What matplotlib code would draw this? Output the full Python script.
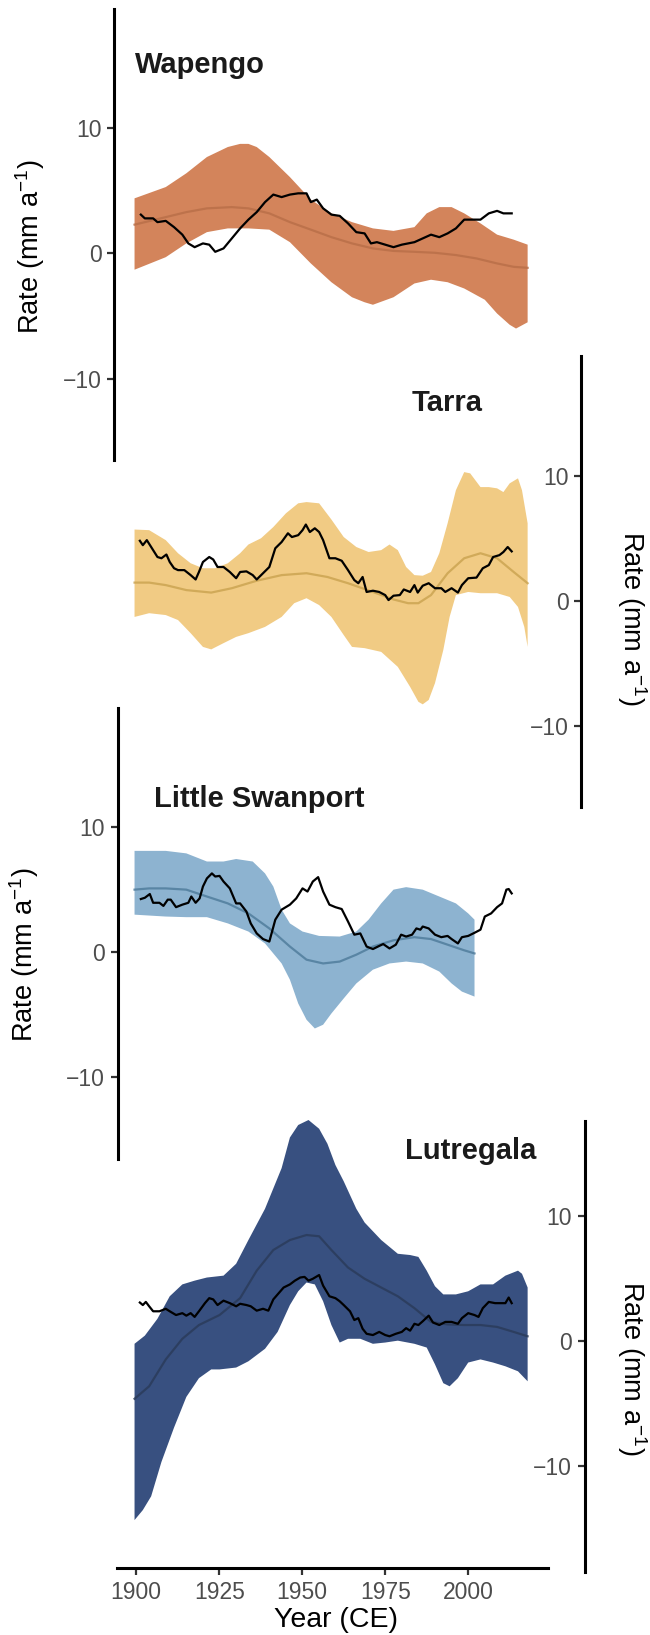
import matplotlib
matplotlib.use("Agg")
import matplotlib.pyplot as plt
import numpy as np

plt.rcParams['font.family'] = ['Liberation Sans', 'DejaVu Sans']
plt.rcParams['mathtext.fontset'] = 'custom'
plt.rcParams['mathtext.rm'] = 'Liberation Sans'
plt.rcParams['mathtext.it'] = 'Liberation Sans:italic'
plt.rcParams['mathtext.bf'] = 'Liberation Sans:bold'

# ---------------- data ----------------
sites = ["Wapengo", "Tarra", "Little Swanport", "Lutregala"]
x_ticks = [1900, 1925, 1950, 1975, 2000]
y_ticks = [-10, 0, 10]
y_label = "Rate (mm a$^{-1}$)"
x_label = "Year (CE)"

# Wapengo
wap_up_yr = [1899.5, 1908.9, 1915.1, 1921.3, 1927.6, 1931.3, 1933.8, 1936.3, 1940.1, 1946.3, 1952.6, 1958.8,
             1965.0, 1971.3, 1977.5, 1983.8, 1987.5, 1991.3, 1995.0, 1998.8, 2003.7, 2008.7, 2013.7, 2017.9]
wap_up = [4.4, 5.3, 6.4, 7.7, 8.5, 8.75, 8.75, 8.5, 7.7, 6.1, 4.3, 3.2,
          2.5, 2.0, 1.8, 2.1, 3.2, 3.7, 3.7, 3.2, 2.4, 1.5, 1.1, 0.7]
wap_lo_yr = [1899.5, 1908.9, 1915.1, 1921.3, 1927.6, 1933.8, 1940.1, 1946.3, 1952.6, 1958.8, 1965.0, 1968.8,
             1971.3, 1977.5, 1983.8, 1988.8, 1993.8, 1998.8, 2005.0, 2008.7, 2012.5, 2014.4, 2017.9]
wap_lo = [-1.3, -0.3, 0.8, 1.7, 2.0, 2.0, 1.9, 0.9, -0.8, -2.3, -3.5, -3.9,
          -4.1, -3.5, -2.4, -2.1, -2.3, -2.8, -3.7, -4.8, -5.7, -6.0, -5.5]
wap_med_yr = [1899.5, 1908.9, 1915.1, 1921.3, 1928.8, 1933.8, 1940.1, 1946.3, 1952.6, 1958.8, 1965.0,
              1971.3, 1977.5, 1983.8, 1990.0, 1996.3, 2002.5, 2008.7, 2013.7, 2017.9]
wap_med = [2.3, 2.9, 3.3, 3.6, 3.7, 3.6, 3.2, 2.5, 1.9, 1.3, 0.8,
           0.4, 0.2, 0.13, 0.05, -0.13, -0.4, -0.8, -1.07, -1.15]
wap_obs_yr = [1901.4, 1902.6, 1905.1, 1906.4, 1908.9, 1911.4, 1913.9, 1915.7, 1917.6, 1920.1, 1922.0, 1923.8,
              1926.3, 1928.8, 1931.3, 1933.8, 1936.3, 1938.8, 1941.3, 1943.8, 1946.3, 1948.8, 1951.3, 1952.6,
              1954.4, 1956.3, 1958.8, 1961.3, 1963.8, 1966.3, 1968.8, 1970.7, 1972.5, 1975.0, 1977.5, 1980.0,
              1983.8, 1986.3, 1988.8, 1991.3, 1993.8, 1996.3, 1998.8, 2001.2, 2003.7, 2006.2, 2008.7, 2010.6, 2013.1]
wap_obs = [3.1, 2.8, 2.8, 2.5, 2.6, 2.1, 1.5, 0.8, 0.5, 0.8, 0.7, 0.13,
           0.4, 1.2, 2.0, 2.7, 3.3, 4.1, 4.7, 4.5, 4.7, 4.8, 4.8, 4.1,
           4.3, 3.6, 3.1, 3.0, 2.4, 1.7, 1.6, 0.8, 0.9, 0.7, 0.5, 0.7,
           0.9, 1.2, 1.5, 1.3, 1.6, 2.0, 2.7, 2.7, 2.7, 3.2, 3.4, 3.2, 3.2]

# Tarra
tar_up_yr = [1899.5, 1903.9, 1908.9, 1912.6, 1916.4, 1920.1, 1923.8, 1927.6, 1931.3, 1933.8, 1937.6, 1941.3,
             1945.1, 1948.8, 1951.3, 1955.1, 1958.8, 1962.5, 1966.3, 1970.0, 1973.8, 1976.3, 1978.8, 1981.3,
             1983.8, 1986.3, 1988.8, 1991.3, 1993.8, 1996.3, 1998.8, 2000.6, 2003.7, 2006.2, 2008.7, 2010.6,
             2012.5, 2015.0, 2016.2, 2017.9]
tar_up = [5.7, 5.65, 4.85, 3.8, 3.0, 2.6, 2.6, 3.0, 3.8, 4.5, 5.0, 5.9,
          7.0, 7.8, 7.9, 7.8, 6.5, 5.1, 4.3, 3.9, 4.05, 4.5, 4.05, 2.7,
          2.05, 2.0, 2.3, 3.8, 6.2, 8.85, 10.3, 10.2, 9.1, 9.1, 9.0, 8.7,
          9.4, 9.8, 8.85, 6.2]
tar_lo_yr = [1899.5, 1903.9, 1908.9, 1912.6, 1916.4, 1920.1, 1922.6, 1926.3, 1930.1, 1933.8, 1938.8, 1943.8,
             1947.6, 1951.3, 1955.1, 1958.8, 1962.5, 1965.0, 1968.8, 1973.8, 1978.8, 1982.5, 1985.0, 1986.3,
             1988.1, 1990.0, 1992.5, 1994.4, 1996.3, 2000.0, 2003.7, 2008.7, 2012.5, 2015.0, 2016.9, 2017.9]
tar_lo = [-1.3, -1.0, -1.15, -1.55, -2.6, -3.7, -3.9, -3.4, -2.9, -2.6, -2.1, -1.3,
          -0.2, 0.2, -0.35, -1.3, -2.75, -3.7, -3.8, -4.1, -5.3, -6.9, -8.1, -8.3,
          -7.95, -6.6, -3.95, -1.3, 0.45, 0.7, 0.6, 0.6, 0.3, -0.5, -2.1, -3.7]
tar_med_yr = [1899.5, 1903.9, 1908.9, 1915.1, 1922.6, 1928.8, 1936.3, 1943.8, 1951.3, 1957.6, 1963.8,
              1971.3, 1977.5, 1981.9, 1985.0, 1988.8, 1993.8, 1998.8, 2003.7, 2008.7, 2013.7, 2017.9]
tar_med = [1.45, 1.45, 1.25, 0.85, 0.65, 1.0, 1.6, 2.05, 2.2, 1.9, 1.4,
           0.7, 0.1, -0.2, -0.2, 0.45, 2.2, 3.4, 3.8, 3.4, 2.3, 1.4]
tar_obs_yr = [1901.1, 1902.0, 1903.2, 1905.1, 1906.4, 1907.6, 1909.1, 1910.1, 1911.4, 1912.6, 1914.5, 1916.4,
              1917.9, 1918.9, 1920.1, 1922.0, 1923.2, 1924.5, 1926.3, 1928.2, 1930.1, 1931.3, 1933.2, 1935.1,
              1936.3, 1938.2, 1940.1, 1941.9, 1943.8, 1945.7, 1946.9, 1948.8, 1950.1, 1951.1, 1952.3, 1953.8,
              1955.1, 1956.3, 1958.2, 1960.0, 1961.9, 1963.8, 1965.7, 1966.9, 1968.2, 1969.4, 1971.3, 1973.2,
              1975.0, 1976.0, 1977.5, 1979.4, 1980.6, 1982.5, 1983.8, 1984.8, 1986.3, 1988.1, 1990.0, 1991.9,
              1993.1, 1995.0, 1996.9, 1998.1, 2000.0, 2002.5, 2004.4, 2006.2, 2007.5, 2009.4, 2010.6, 2011.9, 2013.1]
tar_obs = [4.8, 4.45, 4.85, 4.05, 3.5, 3.4, 3.7, 3.1, 2.6, 2.45, 2.45, 2.05,
           1.7, 2.3, 3.1, 3.5, 3.3, 2.7, 2.7, 2.3, 1.8, 2.3, 2.35, 2.05,
           1.7, 2.2, 2.7, 4.2, 4.7, 5.4, 5.1, 5.25, 5.65, 6.1, 5.5, 5.8,
           5.5, 4.85, 3.4, 3.4, 3.2, 2.45, 1.65, 1.4, 1.9, 0.7, 0.8, 0.7,
           0.45, 0.05, 0.4, 0.45, 0.9, 0.7, 1.25, 0.65, 1.2, 1.4, 1.0, 1.0,
           0.7, 1.0, 0.65, 1.25, 1.8, 1.85, 2.6, 2.85, 3.5, 3.65, 3.9, 4.3, 3.95]

# Little Swanport
ls_up_yr = [1899.5, 1908.9, 1915.1, 1921.3, 1926.3, 1930.1, 1935.1, 1938.8, 1941.3, 1943.8, 1946.3, 1950.1,
            1955.1, 1961.3, 1966.3, 1970.0, 1973.8, 1977.5, 1981.3, 1986.3, 1991.3, 1996.3, 2000.0, 2001.9]
ls_up = [8.1, 8.1, 7.9, 7.25, 7.25, 7.45, 7.25, 6.3, 5.25, 3.4, 2.3, 1.65,
         1.3, 1.25, 1.65, 2.6, 3.9, 5.0, 5.2, 5.0, 4.45, 3.9, 3.1, 2.6]
ls_lo_yr = [1899.5, 1908.9, 1915.1, 1921.3, 1927.6, 1933.8, 1938.8, 1943.8, 1946.3, 1948.8, 1951.3, 1953.8,
            1956.3, 1958.8, 1962.5, 1966.3, 1971.3, 1976.3, 1981.3, 1986.3, 1991.3, 1995.0, 1998.1, 2001.9]
ls_lo = [3.0, 2.85, 2.8, 2.8, 2.3, 1.65, 0.7, -0.9, -2.2, -4.1, -5.4, -6.1,
         -5.8, -4.9, -3.7, -2.5, -1.4, -0.9, -0.75, -0.9, -1.55, -2.5, -3.15, -3.55]
ls_med_yr = [1899.5, 1903.9, 1908.9, 1915.1, 1921.3, 1927.6, 1933.8, 1940.1, 1946.3, 1951.3, 1956.3,
             1961.3, 1966.3, 1971.3, 1977.5, 1983.8, 1988.8, 1993.8, 1998.8, 2001.9]
ls_med = [5.0, 5.1, 5.1, 5.0, 4.45, 3.9, 3.1, 1.9, 0.45, -0.6, -0.9,
          -0.75, -0.2, 0.45, 0.95, 1.2, 1.05, 0.6, 0.15, -0.1]
ls_obs_yr = [1901.4, 1902.6, 1904.1, 1905.1, 1907.0, 1908.2, 1909.5, 1910.4, 1912.0, 1913.9, 1915.7, 1916.6,
             1917.9, 1919.1, 1920.1, 1921.3, 1922.8, 1923.8, 1925.1, 1926.3, 1928.2, 1930.1, 1931.3, 1933.2,
             1934.5, 1936.3, 1938.2, 1940.1, 1941.9, 1943.8, 1946.3, 1948.2, 1950.1, 1951.6, 1953.2, 1954.8,
             1956.3, 1958.2, 1960.0, 1961.9, 1963.8, 1965.7, 1967.5, 1969.4, 1971.3, 1973.2, 1974.4, 1976.3,
             1978.2, 1979.8, 1981.3, 1983.1, 1984.4, 1985.6, 1986.3, 1988.1, 1990.0, 1991.9, 1993.8, 1995.0,
             1996.9, 1998.1, 2000.0, 2001.9, 2003.7, 2005.0, 2006.9, 2008.7, 2010.2, 2011.5, 2012.2, 2013.1]
ls_obs = [4.25, 4.35, 4.65, 3.95, 3.95, 3.7, 4.2, 4.2, 3.6, 3.8, 3.95, 4.45,
          3.95, 4.3, 5.25, 5.9, 6.3, 6.05, 6.1, 5.65, 5.1, 3.9, 3.9, 3.25,
          2.3, 1.5, 1.05, 0.85, 2.6, 3.4, 3.8, 4.3, 5.1, 4.85, 5.65, 6.0,
          4.85, 3.8, 3.6, 3.45, 2.45, 1.4, 1.5, 0.45, 0.25, 0.5, 0.65, 0.3,
          0.6, 1.4, 1.25, 1.4, 1.9, 1.8, 2.05, 1.9, 1.4, 1.2, 1.3, 1.05,
          0.7, 1.2, 1.3, 1.55, 1.8, 2.85, 3.1, 3.6, 3.9, 5.0, 5.05, 4.7]

# Lutregala
lut_up_yr = [1899.5, 1902.6, 1906.4, 1910.1, 1913.9, 1917.6, 1921.3, 1926.3, 1930.1, 1933.8, 1938.8, 1943.8,
             1946.3, 1948.8, 1951.9, 1955.1, 1957.6, 1960.0, 1962.5, 1966.3, 1968.8, 1973.8, 1978.8, 1982.5,
             1985.0, 1987.5, 1990.0, 1992.5, 1996.3, 2000.0, 2003.7, 2007.5, 2011.2, 2015.0, 2016.2, 2017.9]
lut_up = [-0.2, 0.45, 1.8, 3.6, 4.55, 4.85, 5.1, 5.25, 6.2, 8.1, 10.6, 13.85,
          16.3, 17.3, 17.7, 17.0, 15.8, 14.1, 12.8, 10.6, 9.5, 8.1, 7.0, 6.9,
          6.75, 5.65, 4.4, 3.75, 3.75, 4.0, 4.55, 4.55, 5.25, 5.65, 5.4, 4.3]
lut_lo_yr = [1899.5, 1902.0, 1904.5, 1907.6, 1911.4, 1915.1, 1918.9, 1922.6, 1925.1, 1930.1, 1933.8, 1938.8,
             1942.6, 1946.3, 1948.8, 1951.3, 1953.8, 1956.3, 1958.8, 1961.3, 1963.8, 1967.5, 1971.3, 1975.0,
             1978.8, 1983.8, 1987.5, 1990.0, 1992.5, 1994.4, 1996.9, 2000.0, 2003.7, 2007.5, 2011.2, 2015.0, 2017.9]
lut_lo = [-14.3, -13.5, -12.4, -9.65, -6.9, -4.45, -2.95, -2.25, -2.25, -2.1, -1.6, -0.6,
          0.75, 2.9, 4.0, 4.7, 4.55, 3.2, 1.3, -0.1, 0.2, 0.2, -0.2, -0.1,
          0.05, -0.2, -0.5, -1.85, -3.35, -3.6, -2.95, -1.7, -1.45, -1.7, -2.0, -2.4, -3.2]
lut_med_yr = [1899.5, 1903.9, 1908.9, 1913.9, 1918.9, 1925.1, 1931.3, 1936.3, 1941.3, 1946.3, 1951.3, 1955.1,
              1958.8, 1963.8, 1968.8, 1973.8, 1978.8, 1983.8, 1988.8, 1993.8, 1998.8, 2003.7, 2008.7, 2013.7, 2017.9]
lut_med = [-4.6, -3.6, -1.45, 0.2, 1.3, 2.1, 3.45, 5.65, 7.3, 8.1, 8.5, 8.4,
           7.3, 5.9, 5.0, 4.3, 3.6, 2.65, 1.55, 1.35, 1.3, 1.3, 1.15, 0.75, 0.4]
lut_obs_yr = [1901.1, 1902.0, 1902.9, 1903.9, 1905.1, 1907.0, 1908.9, 1910.1, 1912.0, 1913.9, 1915.1, 1916.4,
              1917.6, 1918.9, 1920.7, 1922.0, 1923.2, 1924.5, 1926.3, 1928.2, 1930.1, 1931.3, 1933.2, 1934.5,
              1936.3, 1938.2, 1939.8, 1941.3, 1942.6, 1944.4, 1946.3, 1947.8, 1949.4, 1950.7, 1951.9, 1953.2,
              1955.1, 1956.3, 1958.2, 1960.0, 1961.3, 1962.5, 1964.4, 1965.7, 1966.9, 1968.2, 1969.4, 1971.3,
              1973.2, 1975.0, 1976.3, 1978.2, 1980.0, 1981.3, 1982.5, 1983.8, 1985.0, 1986.3, 1988.1, 1989.4,
              1991.3, 1993.1, 1995.0, 1996.9, 1998.1, 2000.0, 2001.9, 2003.1, 2004.4, 2006.2, 2008.1, 2010.0,
              2011.2, 2012.2, 2013.1]
lut_obs = [3.1, 2.9, 3.15, 2.8, 2.4, 2.4, 2.6, 2.4, 2.1, 2.25, 2.05, 2.25,
           1.95, 2.4, 3.05, 3.45, 3.35, 2.9, 3.25, 3.05, 2.8, 3.0, 2.9, 2.8,
           2.45, 2.6, 2.45, 3.35, 3.75, 4.3, 4.55, 4.85, 5.1, 5.15, 4.85, 5.0,
           5.3, 4.45, 3.6, 3.45, 3.2, 2.9, 2.4, 1.7, 1.85, 1.0, 0.6, 0.5,
           0.75, 0.5, 0.4, 0.6, 0.75, 1.05, 0.85, 1.4, 1.3, 1.6, 2.05, 1.5,
           1.3, 1.55, 1.55, 1.4, 1.85, 2.25, 2.1, 1.95, 2.65, 3.15, 3.05, 3.05,
           3.05, 3.5, 3.05]

band_colors = ["#D3845B", "#F1CB84", "#8DB3D0", "#385080"]
med_colors = ["#B86E48", "#C9A24F", "#4D7A99", "#2A3A58"]

# ---------------- layout (pixels) ----------------
W, H = 650, 1635
X0_PX, PX_PER_YR = 136.2, 3.32   # pixel position of 1900 and pixels per year


def px2yr(px):
    return 1900 + (px - X0_PX) / PX_PER_YR


fig = plt.figure(figsize=(W / 100, H / 100), dpi=100)


def add_ax(L, R, T, B):
    ax = fig.add_axes([L / W, 1 - B / H, (R - L) / W, (B - T) / H])
    ax.set_facecolor('none')
    ax.set_xlim(px2yr(L), px2yr(R))
    return ax


panels = [
    dict(L=114.3, R=581.0, T=9.3, B=460.0, ylim=(-16.5, 19.5), side='left',
         up=(wap_up_yr, wap_up), lo=(wap_lo_yr, wap_lo), med=(wap_med_yr, wap_med), obs=(wap_obs_yr, wap_obs),
         title_xy=(1899.6, 14.4), lab_px=(30, 247)),
    dict(L=114.3, R=581.0, T=356.0, B=806.7, ylim=(-16.5, 19.6), side='right',
         up=(tar_up_yr, tar_up), lo=(tar_lo_yr, tar_lo), med=(tar_med_yr, tar_med), obs=(tar_obs_yr, tar_obs),
         title_xy=(1983.1, 15.2), lab_px=(632, 618)),
    dict(L=117.6, R=584.7, T=708.3, B=1159.3, ylim=(-16.56, 19.5), side='left',
         up=(ls_up_yr, ls_up), lo=(ls_lo_yr, ls_lo), med=(ls_med_yr, ls_med), obs=(ls_obs_yr, ls_obs),
         title_xy=(1905.4, 11.6), lab_px=(24, 955)),
    dict(L=117.6, R=584.7, T=1120.5, B=1571.7, ylim=(-18.43, 17.66), side='right',
         up=(lut_up_yr, lut_up), lo=(lut_lo_yr, lut_lo), med=(lut_med_yr, lut_med), obs=(lut_obs_yr, lut_obs),
         title_xy=(1981.0, 14.6), lab_px=(632, 1368)),
]

SPINE_LW = 2.2
for i, p in enumerate(panels):
    ax = add_ax(p['L'], p['R'], p['T'], p['B'])
    ax.set_ylim(*p['ylim'])
    for s in ['top', 'right', 'bottom']:
        ax.spines[s].set_visible(False)
    ax.spines['left'].set_linewidth(SPINE_LW)
    ax.spines['left'].set_color('black')
    if p['side'] == 'right':
        ax.spines['left'].set_position(('axes', 1.0))
    ax.set_xticks([])
    ax.set_yticks(y_ticks)
    ax.tick_params(axis='y', length=5, width=1.6, color='#333333', labelsize=16.5,
                   labelcolor='#4d4d4d', pad=4)

    ux, uy = p['up']
    lx, ly = p['lo']
    poly_x = np.concatenate([ux, lx[::-1]])
    poly_y = np.concatenate([uy, ly[::-1]])
    ax.fill(poly_x, poly_y, color=band_colors[i], lw=0, clip_on=False, zorder=1)
    ax.plot(*p['med'], color=med_colors[i], lw=1.6, alpha=0.8, zorder=2, clip_on=False)
    ax.plot(*p['obs'], color='black', lw=1.6, zorder=3, clip_on=False)

    ax.text(p['title_xy'][0], p['title_xy'][1], sites[i], fontsize=21, fontweight='bold',
            color='#1a1a1a', ha='left', va='baseline')

    rot = 90 if p['side'] == 'left' else -90
    fig.text(p['lab_px'][0] / W, 1 - p['lab_px'][1] / H, y_label, rotation=rot,
             ha='center', va='center', fontsize=19.6, color='black')

# bottom x axis
axx = add_ax(116.7, 548.0, 1560.0, 1568.3)
for s in ['top', 'right', 'left']:
    axx.spines[s].set_visible(False)
axx.spines['bottom'].set_linewidth(SPINE_LW)
axx.set_yticks([])
axx.set_xticks(x_ticks)
axx.tick_params(axis='x', length=5, width=1.6, color='#333333', labelsize=16.5,
                labelcolor='#4d4d4d', pad=4)
fig.text(336 / W, 1 - 1620 / H, x_label, ha='center', va='center', fontsize=20.5, color='black')

fig.savefig("out.png", dpi=100)
